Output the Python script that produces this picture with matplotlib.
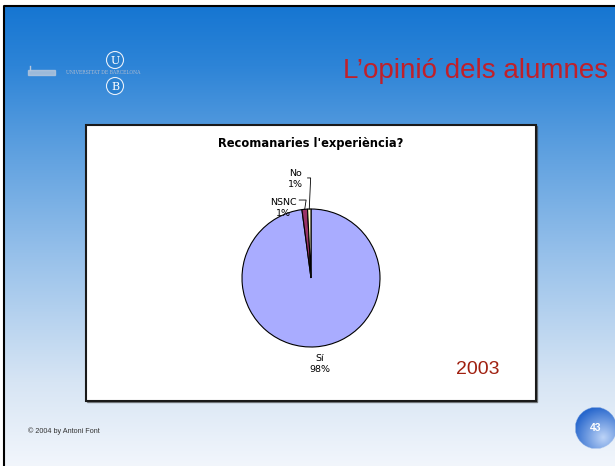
import numpy as np
import matplotlib.pyplot as plt
from matplotlib.patches import Rectangle, Circle

W, H = 615, 466

labels = ['Sí', 'NSNC', 'No']
values = [97.9, 1.3, 0.8]
colors = ['#a9acff', '#993366', '#ffffcc']
chart_title = "Recomanaries l'experiència?"
slide_title = 'L\u2019opinió dels alumnes'
year = '2003'
footer = '© 2004 by Antoni Font'
page = '43'

fig = plt.figure(figsize=(W / 100, H / 100), dpi=100)
bg = fig.add_axes([0, 0, 1, 1])
bg.set_xlim(0, W)
bg.set_ylim(H, 0)
bg.axis('off')

# slide background: vertical blue-to-white gradient
ys = np.array([0, 60, 130, 250, 380, 466])
rs = np.array([22, 45, 85, 150, 215, 242])
gs = np.array([118, 132, 155, 192, 229, 246])
bs = np.array([210, 215, 222, 234, 244, 252])
yy = np.arange(H)
grad = np.stack([np.interp(yy, ys, rs), np.interp(yy, ys, gs),
                 np.interp(yy, ys, bs)], axis=-1)[:, None, :] / 255
grad = np.repeat(grad, W, axis=1)
bg.imshow(grad, extent=(4, W, H, 6), aspect='auto', zorder=0)
bg.plot([4, 4, W], [H, 6, 6], color='black', lw=1.5, zorder=1)

# logo
bg.add_patch(Rectangle((28, 70), 27, 5, color='#b8c8dc', alpha=0.8, zorder=2))
bg.plot([30, 30], [66, 70], color='#b8c8dc', lw=1, zorder=2)
bg.text(66, 73, 'UNIVERSITAT DE BARCELONA', fontsize=3.3, color='#aebbd0',
        family='DejaVu Serif', va='center', zorder=2)
for cy, ch in [(60, 'U'), (86, 'B')]:
    bg.add_patch(Circle((115, cy), 8.5, facecolor='#2a80d0', edgecolor='#e8f0fa',
                        lw=0.8, zorder=2))
    bg.text(115, cy + 0.5, ch, fontsize=8, color='white', family='DejaVu Serif',
            ha='center', va='center', zorder=3)

bg.text(608, 71, slide_title, fontsize=20, color='#c0202a',
        family='Liberation Sans', ha='right', va='center', zorder=2)

# chart area
bg.add_patch(Rectangle((87, 126), 450, 276, color='#333333', alpha=0.5, zorder=2))
bg.add_patch(Rectangle((86, 125), 450, 276, facecolor='white', edgecolor='#1a1a1a',
                       lw=1.5, zorder=3))
bg.text(311, 143, chart_title, fontsize=8.3, fontweight='bold',
        family='DejaVu Sans', ha='center', va='center', zorder=4)
bg.text(478, 369, year, fontsize=14, color='#a02010', family='Liberation Sans',
        ha='center', va='center', zorder=4)

# footer and page bubble
bg.text(28, 431, footer, fontsize=5.2, color='#333333', family='Liberation Sans',
        va='center', zorder=2)
n = 80
xx, yv = np.meshgrid(np.linspace(-1, 1, n), np.linspace(-1, 1, n))
d = np.hypot(xx - 0.35, yv - 0.45)
t = np.clip(d / 1.5, 0, 1)[..., None]
light = np.array([0.74, 0.83, 0.97])
dark = np.array([0.15, 0.40, 0.80])
sph = light * (1 - t) + dark * t
alpha = (np.hypot(xx, yv) <= 1).astype(float)[..., None]
sph = np.concatenate([sph, alpha], axis=-1)
bg.imshow(sph, extent=(575, 617, 449, 407), zorder=2, interpolation='bilinear')
bg.text(596, 428, page, fontsize=7.5, fontweight='bold', color='white',
        family='Liberation Sans', ha='center', va='center', zorder=3)

# pie
cx, cy, r = 311, 278, 69
pax = fig.add_axes([(cx - r) / W, (H - cy - r) / H, 2 * r / W, 2 * r / H])
wedges, _ = pax.pie(values, colors=colors, startangle=90, counterclock=False,
                    radius=1, wedgeprops=dict(edgecolor='black', linewidth=0.8))
pax.set_aspect('auto')
pax.set_xlim(-1, 1)
pax.set_ylim(-1, 1)
pax.axis('off')
for w in wedges:
    w.set_clip_on(False)

kw = dict(fontsize=6.8, family='DejaVu Sans', ha='center', va='center',
          clip_on=False)
pct = [f'{v:.0f}%' for v in values]
pax.text(0.13, -1.17, labels[0], **kw)
pax.text(0.13, -1.33, pct[0], **kw)
# small slices: labels above with bent leader lines
offs = {1: (-0.40, 1.10, 1.13, 0.23), 2: (-0.22, 1.52, 1.45, 0.17)}
for i in (1, 2):
    w = wedges[i]
    ang = np.deg2rad((w.theta1 + w.theta2) / 2)
    px, py = np.cos(ang), np.sin(ang)
    lx, ly, hy, gap = offs[i]
    pax.text(lx, ly, labels[i], **kw)
    pax.text(lx, ly - 0.16, pct[i], **kw)
    pax.plot([lx + gap, px + 0.02, px], [hy, hy, py],
             color='black', lw=0.6, clip_on=False)

fig.savefig('out.png', dpi=100)
